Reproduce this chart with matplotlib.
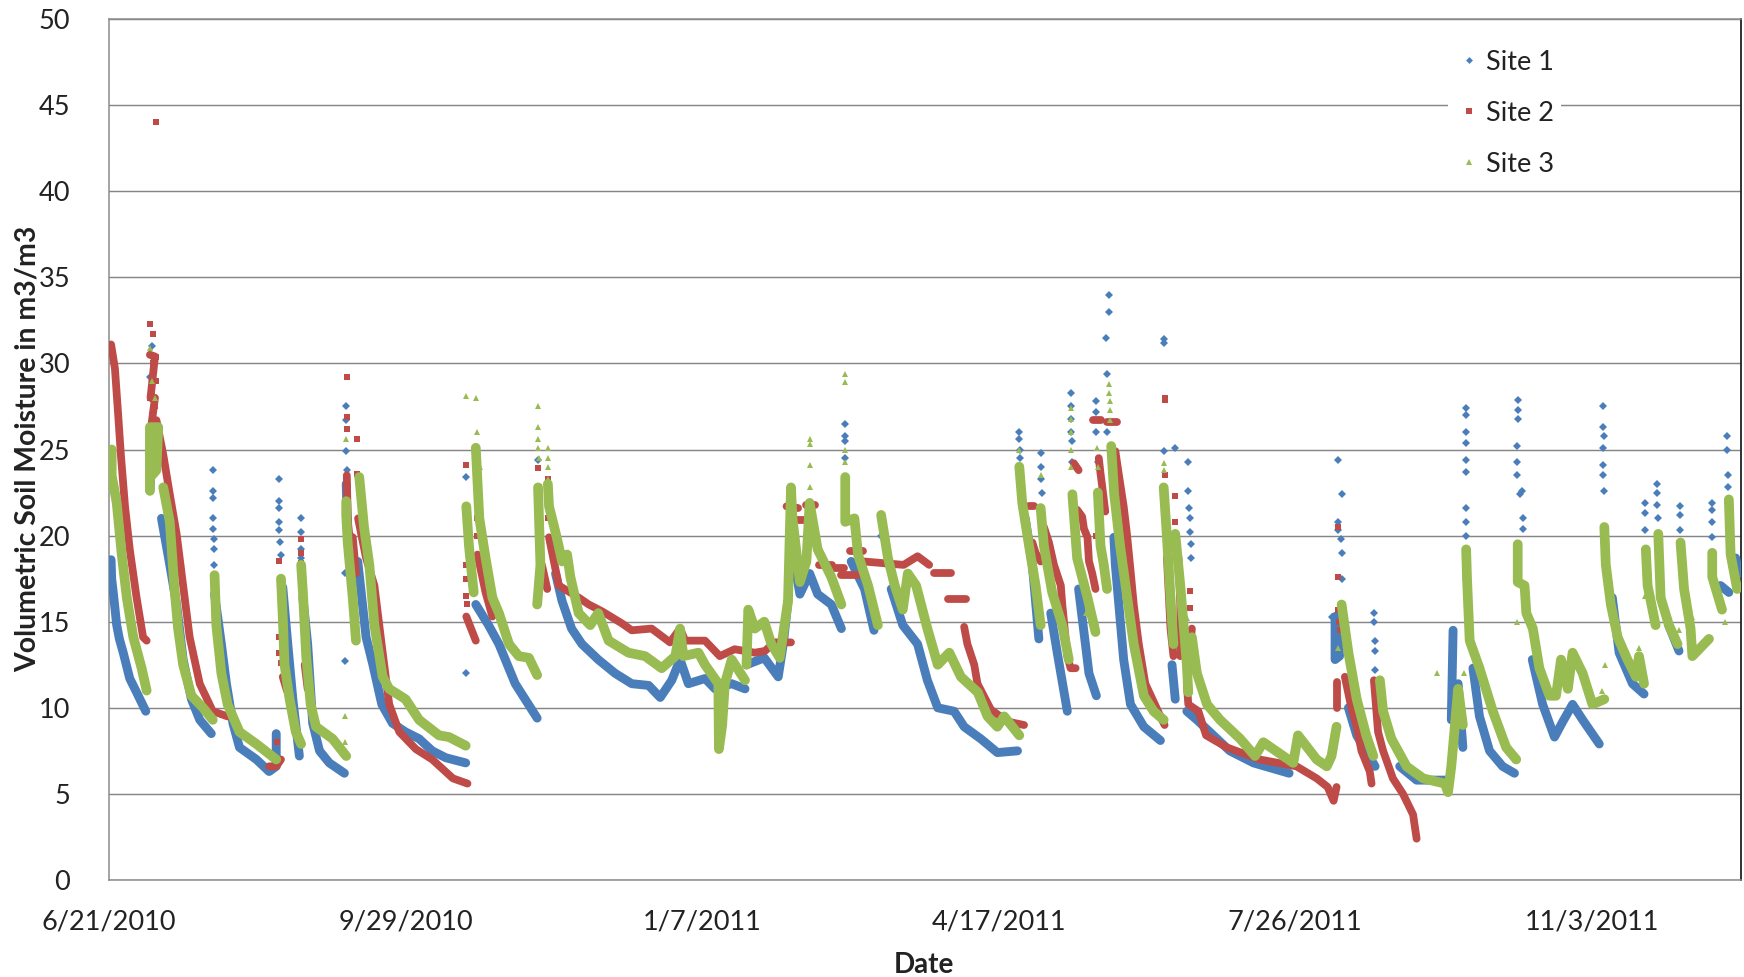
import matplotlib
matplotlib.use("Agg")
import matplotlib.pyplot as plt
from matplotlib.lines import Line2D

site_names = ["Site 1", "Site 2", "Site 3"]
y_ticks = [0, 5, 10, 15, 20, 25, 30, 35, 40, 45, 50]
x_tick_days = [0, 100, 200, 300, 400, 500]
x_tick_labels = ["6/21/2010", "9/29/2010", "1/7/2011", "4/17/2011", "7/26/2011", "11/3/2011"]

# Days after 6/21/2010 and readings: dense runs
site1_runs = [
 [(0.7,18.6),(0.9,17.5),(1.5,16.6),(2.6,14.8),(3.5,14),(4.8,13.2),(7,11.7),(9.3,10.9),(11,10.3),(12.4,9.8)],
 [(13.8,22.6),(14,23.5)],
 [(17.7,21),(20.5,18.3),(22.8,16),(25,12.8),(27.8,10.5),(30.6,9.3),(34.5,8.5)],
 [(35.6,16.6),(37.9,13.7),(39.6,11.4),(41.8,9.1),(44,7.7),(49.7,7),(54,6.3),(56.4,6.6),(56.4,8.5)],
 [(58.6,17),(60.3,13.7),(62,10.5),(64.2,7.2)],
 [(65.4,16.4),(67,13.7),(68.7,9.1),(71,7.5),(74.3,6.8),(79.4,6.2)],
 [(80,23),(80.3,21),(80.8,19.5)],
 [(83.9,18.5),(85.5,16),(86.7,14.1),(89,12.5),(92,10.2),(95.6,9.1),(100,8.6),(104.6,8.2),(109,7.5),(113.6,7.1),(120.3,6.8)],
 [(123.7,16),(128,14.8),(131.5,13.7),(137,11.4),(144.4,9.4)],
 [(150.6,17.8),(152.8,16.2),(156,14.6),(159.5,13.7),(165,12.8),(170.7,12),(176.3,11.4),(182,11.3),(185.9,10.6),(189.8,11.6),(192.6,12.8),(195.4,11.4),(201,11.7),(204.4,11.1),(210,11.4),(214.5,11.1)],
 [(215,12.5),(221,12.9),(225.7,11.8),(227.4,13.7),(229,16.2)],
 [(230,19.6),(233,16.6),(236.3,17.8),(239,16.6),(243.6,16),(247,14.6)],
 [(250.3,18.5),(254.8,16.9),(258,14.5)],
 [(263.8,16.9),(267.7,14.8),(272.7,13.7),(276,11.6),(279.5,10),(285,9.8),(288.4,8.9),(294,8.2),(299.6,7.4),(306.4,7.5)],
 [(309,21),(311.4,18.3),(313.6,14)],
 [(317.6,15.5),(319.8,13.2),(323.2,9.8)],
 [(327,16.9),(329.3,13.7),(330.5,12),(333,10.7)],
 [(338.9,19.9),(339.4,18.3),(342.2,12.8),(344.5,10.2),(349,8.9),(354.6,8.1)],
 [(358.5,12.5),(359.6,10.5)],
 [(363.5,9.8),(366.9,9.3),(378,7.5),(386,6.8),(398,6.2)],
 [(413.5,15.3),(413.5,12.8),(415,13),(414.5,15)],
 [(418,10),(420.8,8.4),(427,6.6)],
 [(435.3,6.6),(441,5.8),(451,5.8)],
 [(452.7,9.3),(453.3,14.5)],
 [(455,11.4),(456.6,7.7)],
 [(460,12.3),(462.2,9.5),(465.6,7.5),(470,6.6),(474,6.2)],
 [(480,12.8),(483.5,10.2),(487.5,8.3),(490.3,9.2),(493.6,10.2),(497,9.3),(502.6,7.9)],
 [(507,16.4),(509.3,13.2),(513.8,11.4),(517.7,10.8)],
 [(526,14.8),(529.5,13.3)],
 [(543.5,17.1),(546.3,16.7)],
 [(548.6,18.7),(549.7,17.8)],
]
site2_runs = [
 [(0.7,31.1),(2,29.7),(3.1,27),(4,24.7),(5.4,21.7),(7,19.2),(9.3,16.4),(11.5,14.1),(12.7,13.9)],
 [(13.8,30.5),(15.5,30.4),(14,28),(15.5,28),(14,26),(15.5,26),(14,24.8),(16,25)],
 [(16,26.7),(18.3,24.7),(20.5,22.4),(22.8,20.1),(25,17.1),(27.2,14.1),(30.6,11.4),(35,9.8),(40,9.5)],
 [(54,6.6),(56.4,6.6),(58,7)],
 [(58.6,11.8),(60,11)],
 [(66,12.5),(67,11.1)],
 [(80.2,23.5),(80.5,21),(81,20),(82.2,19.9),(83.3,17.8)],
 [(84,21),(86.7,18.7),(89.5,17.1),(92.3,13.2),(94.5,10.2),(97.9,8.6),(103.5,7.6),(109,7),(116,5.9),(120.9,5.6)],
 [(120.5,15.3),(123.7,13.9)],
 [(124.3,18.9),(127,16.7),(129.3,15.3)],
 [(146,18.3),(147.8,16.9)],
 [(148.4,19.9),(151.7,17.1),(158.4,16.4),(161.8,16),(166.3,15.6),(173,14.9),(176.3,14.5),(183,14.6),(189.2,13.8),(192.6,14.6),(194.3,13.9),(201,13.9),(206,13),(211,13.4),(217.8,13.2),(221.2,13.3),(224.5,13.8),(230,13.8)],
 [(228.5,21.7),(232.4,21.6)], [(231,20.9),(235,20.9)], [(235.2,21.8),(238,21.8)],
 [(239.5,18.3),(244,18.3)], [(242.5,18.1),(248,18.1)], [(247,17.7),(252.6,17.7)], [(250,19.1),(254.3,19.1)],
 [(254.3,18.5),(268,18.3),(272.7,18.8),(276.6,18.3)],
 [(278.3,17.8),(284,17.8)], [(282.8,16.3),(289,16.3)],
 [(288.4,14.7),(289.5,13.7),(291.8,12.5),(292.9,11.4),(297.4,9.9),(303,9.2),(308.6,9)],
 [(310.3,21.7),(312,21.7)],
 [(311.4,19.6),(312.5,19),(314.2,18.5)],
 [(315.3,20.5),(317,19.6),(318.7,18.3),(321,17.1),(321.5,16),(323.2,13),(324.3,12.3),(326,12.3)],
 [(325.4,24.2),(327,23.8)],
 [(326.5,21.5),(328.2,21.1),(328.8,20.4),(330,19.9),(330.5,18.5),(331.6,17.8),(332.7,16.9)],
 [(332,26.7),(334.5,26.7)],
 [(333.8,24.5),(334.4,23.6),(335,22.8),(336,21.4)],
 [(336.7,26.6),(340,26.6)],
 [(339.4,24.9),(340.6,23.5),(342.2,21.7),(343.3,20.1),(344.5,18),(345.6,16),(347.3,13.7),(349.5,11.4),(354.6,9.5),(356,9)],
 [(356.8,18.7),(358,14.6),(359,13)],
 [(360.7,18.7),(361.3,16),(361.3,13)],
 [(365.2,14.6),(363.5,11.4),(364,10.2),(367.4,9.8),(370,8.4),(377,7.7),(388,7),(400.5,6.6),(407.3,5.9),(411,5.4),(413,4.6),(414,5.4)],
 [(414,11.5),(414,10)],
 [(416.8,11.8),(419,10),(420.8,8.9),(422.4,7.5),(425.2,6.3),(425.8,5.6)],
 [(426.6,11.6),(428,8.6),(429.7,7.5),(433,5.9),(436.4,5),(439.8,3.8),(441,2.4)],
]
site3_runs = [
 [(0.9,25),(0.9,23.5),(2.6,21.9),(4.3,18.9),(6,16.4),(8.2,14.1),(11,12.3),(12.7,11)],
 [(13.8,22.6),(13.8,26.3),(16.6,26.3),(16,23.8),(14.5,23.5),(15.5,25)],
 [(18.3,22.8),(20.5,20.8),(22,17.1),(23.3,14.6),(25,12.5),(27.8,10.7),(31.7,10),(35,9.3)],
 [(35.6,17.7),(36.2,14.8),(37.9,12),(40,10.2),(44,8.6),(49.7,7.9),(56.4,7)],
 [(58,17.5),(58.6,15.3),(59.2,12.5),(60.9,10.5),(63,8.6),(64.8,7.9)],
 [(64.8,18.3),(65.4,16.7),(66.5,13),(68,10.2),(69.8,8.9),(75.4,8.2),(80,7.2)],
 [(80,22),(80,21.2),(80.5,19.6),(82.2,16.4),(83.3,13.9)],
 [(84.4,23.4),(86,20.5),(87.8,18.3),(89.5,14.8),(92.3,11.8),(94.5,11.1),(100,10.5),(104.6,9.3),(111.3,8.4),(114.7,8.3),(120.3,7.8)],
 [(120.5,21.7),(121.4,19.4),(123,16.7)],
 [(123.7,25.1),(124.9,21),(127,18.7),(129.3,16.4),(131.5,15.5),(134.9,13.7),(138.2,13),(141.6,12.9),(144.4,11.9)],
 [(144.7,22.8),(145.5,18.3),(144.4,16)],
 [(148,23),(148.4,21.7),(151,19.9),(152.8,18.5),(154.5,18.9),(155.6,17.6),(158.4,15.5),(162.3,14.8),(165,15.5),(168.5,13.9),(175.2,13.2),(180.8,13),(186.4,12.3),(191,13),(192.6,14.6),(193.7,13),(198.8,13.2),(201,12.5),(205.5,11.4),(205.7,7.6),(206.8,9),(207.7,11.4),(210,12.8),(214.5,11.6)],
 [(215,12.5),(215.6,15.7),(217.8,14.6),(221,15),(223.4,13.7),(226.2,12.9),(229,16.2),(230,22.8),(230.5,21),(233,17.3),(235.2,18.5),(236.3,21.9),(239,19.2),(243.6,17.6),(247,16)],
 [(248.3,23.4),(248.3,20.8),(251.4,21),(252.6,18.9),(256,17.1),(259.3,14.8)],
 [(260.4,21.2),(262.7,18.7),(265,17.1),(267.7,15.7),(269.4,17.8),(272.2,17.1),(276,14.6),(279.5,12.5),(283.4,13.2),(287.3,11.8),(293,10.9),(296.3,9.5),(299.6,8.9),(301.9,9.5),(307,8.4)],
 [(307,24),(308,21.9),(310.3,19.4),(312.5,17.1),(314.2,14.8)],
 [(314.2,21.6),(315.3,19.4),(318.1,16.7),(321.5,14.8),(323.7,12.8)],
 [(324.9,22.4),(326.5,18.7),(330,16.4),(332.7,14.4)],
 [(333.5,22.5),(334.4,19.4),(335.5,18.3),(336.6,16.9)],
 [(338,25.2),(339,22.4),(341,19.4),(343.4,16.4),(345.6,13.7),(349,10.7),(352.3,9.8),(355.7,9.3)],
 [(355.7,22.8),(356.8,19.9),(358,16.4),(359,13.7)],
 [(359.6,20.1),(361.3,17.1),(363.5,12.5),(364,10.9)],
 [(365.2,14.1),(366.9,12),(370.3,10.2),(374.7,9.3),(381.5,8.2),(386.5,7.2),(389.3,8),(399.4,6.8),(401,8.4),(407.3,7),(410.7,6.6),(412.3,7.2),(414,8.9)],
 [(415.7,16),(418,13.2),(420.8,10.5),(424,8.4),(426.4,7.2)],
 [(428.6,11.6),(429.7,9.8),(432.5,8.2),(437.6,6.6),(443.2,5.9),(450.5,5.6),(451.6,5.1),(452.7,6.6),(455,11.1),(456.6,9)],
 [(457.7,19.2),(458,17.5),(458.9,13.9),(462.2,12.3),(466.7,9.8),(471.2,7.7),(474.6,7)],
 [(475.1,19.5),(475.1,17.3),(477.4,17.1),(478,15.5),(480.2,14.6),(482.4,12.3),(485.8,10.7),(488,10.7),(489.7,12.8),(492,11.1),(493.6,13.2),(497,12),(500.3,10.2),(504.3,10.5)],
 [(504.3,20.5),(504.8,18.3),(506.5,16),(508.8,14.1),(512.1,12.8),(515,11.8),(516,13),(517.7,11.4)],
 [(518.3,19.2),(518.9,17.1),(521.6,14.8)],
 [(522.5,20.1),(523.3,16.4),(526.1,14.8),(529,13.7)],
 [(530,19.6),(531.2,16.9),(533.4,14.6),(534,13),(539.6,14)],
 [(540.7,19),(540.7,17.6),(544,15.7)],
 [(546.3,22.1),(546.9,18.9),(549.1,16.9)],
]

# Sparse readings on the rain spikes
site1_spike_days = [13.8,13.8,14.5,14.5,15,35,35,35,35.2,35.2,35.4,35.4,35.5,57.5,57.5,57.5,57.5,57.5,57.8,58,64.6,64.6,64.8,64.8,65,79.7,79.7,80,80,80,80.2,80.2,80.5,120.3,120.3,120.5,144.7,144.7,144.7,248.3,248.3,248.3,248.3,260.4,260.4,307,307,307.3,307.3,307.6,314.2,314.2,314.2,314.5,324.3,324.3,324.3,324.5,324.7,324.7,332.8,332.8,333,333.5,336.5,337.2,337.2,336.3,336.5,355.7,355.7,355.7,359.5,364,364,364.3,364.5,364.6,364.8,365,414.6,416,414.6,414.6,415.5,415.8,416,426.6,426.6,427,427,427,457.5,457.5,457.5,457.5,457.5,457.5,457.5,457.5,457.7,457.7,475.2,475.2,475.2,475,475,475,476,476.5,477,477,504,504,504.2,504,504,504,504.2,518,518,518,518,518.2,522.2,522.2,522.2,522.3,529.7,529.7,529.7,540.7,540.7,540.7,540.7,545.8,545.8,546,546,546,546.3,412.5,414,413.5]
site1_spike_vals = [29.2,26.4,31,28,24.3,23.8,22.6,22.2,21,20.4,19.8,19.2,18.3,23.3,22,21.6,20.8,20.3,19.6,18.9,21,20.2,19.2,18.7,17.6,17.8,12.7,27.5,26.7,24.9,23.8,22.8,21,12,23.4,21.5,24.4,22.8,21.8,26.5,25.8,25.5,24.5,21,20,26,25.6,25,24.5,23,24.8,24,23.3,22.5,28.3,27.5,26.8,26,25.5,24.3,27.8,27.2,26,24.3,26,34,33,31.5,29.4,31.4,31.2,24.9,25.1,24.3,22.6,21.6,21,20.2,19.5,18.7,24.4,22.4,20.8,20.3,19.8,19,17.5,15.5,15,13.9,13.3,12.2,27.4,27,26,25.4,24.4,23.7,21.6,20.8,20,17.5,27.9,27.3,26.8,25.2,24.3,23.5,22.4,22.6,21,20.4,27.5,26.3,25.8,25.1,24.1,23.5,22.6,21.9,21.3,20.3,19.2,18.5,23,22.5,21.8,21,21.7,21.2,20.3,21.9,21.5,20.8,19.9,25.8,25,23.5,22.8,21.9,21,15.3,14.5,15]
site2_spike_days = [16,13.8,15,14,16,15,16,13.8,14.5,15.5,15,14,56.8,57.5,57.5,57.5,58,64.6,64.6,64.6,80.2,80.2,80.2,80.2,80.2,80.5,81,83.6,83.6,120.5,120.5,120.5,120.5,120.8,124,124,124,144.7,144.9,145,148,148,148.2,356,356,356,356,359.6,359.6,333,364.6,364.6,414.6,414.6,414.6,414.8,415.3]
site2_spike_vals = [44,32.3,31.7,30.5,30.4,30,29,28,27,27.5,25.3,25.1,8,18.5,14.1,13.2,12.6,19.8,19,18.4,29.2,26.9,26.2,23.2,21.9,21,20.5,25.6,23.6,24.1,18.3,16.5,17.5,16,22.8,21,20,23.9,22.8,21,23.3,22.5,21,28,27.9,23.5,21.7,22.3,20.8,20,16.8,15.8,20.5,17.6,15.7,15,14.5]
site3_spike_days = [13.8,14.5,15.5,79.7,79.7,80,120.3,123.7,124,125,124.5,144.7,144.7,144.7,144.7,144.9,148,148,148,148.2,148.3,236.3,236.3,236.3,236.3,248.3,248.3,248.3,248.3,248.3,307,314.2,324.3,324.3,324.3,324.5,324.6,333.3,333.5,334,337.2,337.2,337.5,337.6,337.7,338,355.7,355.7,358,329.5,363.5,359,333,416,414.6,448,504.5,516,529.5,518,534,534.2,545,475,503.5,457]
site3_spike_vals = [30.9,29,28,9.5,8,25.6,28.1,28,26,24,22.5,27.5,26.3,25.6,25.1,24.5,25.1,24.5,24,23.3,22.9,25.6,25.3,24.1,22.8,29.4,28.9,25,24.3,23.4,25,23.5,27.4,26.8,26,25,24,25.1,24,22.5,28.8,28.3,27.8,27.3,26.7,25.2,24.2,23.8,15,15.5,15.2,14.5,15,15.2,13.5,12,12.5,13.5,14.5,16.5,15.3,14,15,15,11,12]

site_colors = ["#4A7EBB", "#BE4B48", "#98BB52"]
site_markers = ["D", "s", "^"]
run_widths = [6.4, 5.6, 7.0]
spike_sizes = [3.6, 5.0, 4.4]
all_runs = [site1_runs, site2_runs, site3_runs]
spike_days = [site1_spike_days, site2_spike_days, site3_spike_days]
spike_vals = [site1_spike_vals, site2_spike_vals, site3_spike_vals]

W, H = 1744, 977
fig = plt.figure(figsize=(W / 100, H / 100), dpi=100, facecolor="white")
L, R, T, B = 109, 1741, 19, 880
ax = fig.add_axes([L / W, 1 - B / H, (R - L) / W, (B - T) / H])
plt.rcParams["font.family"] = "Lato"

for i in range(3):
    for run in all_runs[i]:
        ds, vs = zip(*run)
        ax.plot(ds, vs, color=site_colors[i], lw=run_widths[i], solid_capstyle="round",
                solid_joinstyle="round", zorder=3 + i, clip_on=True)
    ax.plot(spike_days[i], spike_vals[i], ls="none", marker=site_markers[i],
            ms=spike_sizes[i], color=site_colors[i], mew=0, zorder=3 + i)

ax.set_xlim(0, 550.4)
ax.set_ylim(0, 50)
ax.set_yticks(y_ticks)
ax.set_xticks(x_tick_days)
ax.set_xticklabels(x_tick_labels)
ax.yaxis.grid(True, color="#868686", lw=1.05, zorder=1)
ax.set_axisbelow(True)
for side in ("left", "top", "bottom"):
    ax.spines[side].set_color("#8C8C8C")
    ax.spines[side].set_linewidth(1.1)
ax.spines["right"].set_color("#222222")
ax.spines["right"].set_linewidth(1.3)
ax.tick_params(axis="both", length=0, labelsize=19.5, labelcolor="#222222", labelfontfamily="Lato")
ax.tick_params(axis="x", pad=21)
ax.tick_params(axis="y", pad=28)
fig.text(28 / W, 1 - 449 / H, "Volumetric Soil Moisture in m3/m3", rotation=90, ha="center", va="center",
         fontsize=20.4, fontweight="bold", color="#222222", family="Lato")
fig.text(924 / W, 1 - 965 / H, "Date", ha="center", va="center",
         fontsize=20, fontweight="bold", color="#222222", family="Lato")

handles = [Line2D([], [], ls="none", marker=site_markers[i], ms=[3.5, 4, 4][i], mew=0,
                  color=site_colors[i], label=site_names[i]) for i in range(3)]
leg = ax.legend(handles=handles, loc="upper left", bbox_to_anchor=((1448 - L) / (R - L), 1 - (43 - T) / (B - T)),
                borderaxespad=0, frameon=True, framealpha=1, facecolor="white", edgecolor="none",
                fancybox=False, prop={"family": "Lato", "size": 19.5}, labelspacing=0.96,
                handletextpad=0.1, borderpad=0.25, handlelength=1.06, labelcolor="#222222")
leg.set_zorder(10)
fig.savefig("out.png", dpi=100, facecolor="white")
